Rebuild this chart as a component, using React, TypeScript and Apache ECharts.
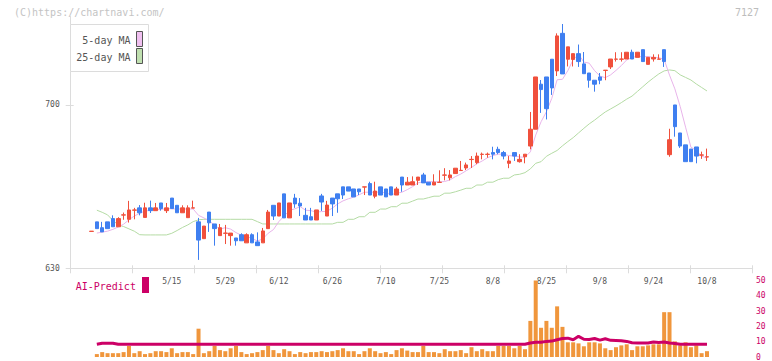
import React, { useEffect, useRef } from "react";
import * as echarts from "echarts";

// Trading days (2025), 4/21 .. 10/8
const DATES = [
  "4/21", "4/22", "4/23", "4/24", "4/25", "4/28", "4/30",
  "5/1", "5/2", "5/7", "5/8", "5/9", "5/12", "5/13", "5/14", "5/15", "5/16", "5/19", "5/20", "5/21", "5/22", "5/23", "5/26", "5/27", "5/28", "5/29", "5/30",
  "6/2", "6/3", "6/4", "6/5", "6/6", "6/9", "6/10", "6/11", "6/12", "6/13", "6/16", "6/17", "6/18", "6/19", "6/20", "6/23", "6/24", "6/25", "6/26", "6/27", "6/30",
  "7/1", "7/2", "7/3", "7/4", "7/7", "7/8", "7/9", "7/10", "7/11", "7/14", "7/15", "7/16", "7/17", "7/18", "7/22", "7/23", "7/24", "7/25", "7/28", "7/29", "7/30", "7/31",
  "8/1", "8/4", "8/5", "8/6", "8/7", "8/8", "8/12", "8/13", "8/14", "8/15", "8/18", "8/19", "8/20", "8/21", "8/22", "8/25", "8/26", "8/27", "8/28", "8/29",
  "9/1", "9/2", "9/3", "9/4", "9/5", "9/8", "9/9", "9/10", "9/11", "9/12", "9/16", "9/17", "9/18", "9/19", "9/22", "9/24", "9/25", "9/26", "9/29", "9/30",
  "10/1", "10/2", "10/3", "10/6", "10/7", "10/8",
];

const LABEL_DATES = ["5/15", "5/29", "6/12", "6/26", "7/10", "7/25", "8/8", "8/25", "9/8", "9/24", "10/8"];

const OPEN = [
  645.8, 649.9, 647.4, 649.9, 651.3, 647.8, 652.8, 651.0, 654.9, 655.9,
  651.8, 655.9, 654.7, 658.0, 654.7, 660.1, 657.0, 653.8, 651.7, 655.8,
  649.9, 642.7, 654.1, 649.0, 644.0, 645.0, 644.0, 643.0, 644.4, 640.9,
  644.4, 641.3, 640.9, 647.0, 657.0, 652.4, 661.9, 651.6, 660.1, 657.9,
  652.7, 652.1, 650.7, 661.0, 652.4, 660.1, 661.9, 664.9, 664.9, 664.0,
  664.0, 664.8, 666.3, 660.9, 664.9, 664.0, 664.9, 661.4, 669.1, 665.7,
  665.7, 667.7, 670.0, 666.9, 665.7, 666.8, 669.9, 668.8, 670.6, 671.9,
  673.0, 676.6, 675.3, 678.8, 678.8, 679.6, 681.0, 679.6, 675.0, 679.6,
  675.7, 677.8, 682.4, 689.6, 708.9, 712.0, 719.6, 714.6, 730.7, 719.6,
  719.5, 722.0, 717.6, 713.7, 710.6, 712.0, 714.8, 716.3, 719.6, 719.6,
  719.7, 722.6, 720.4, 723.7, 717.4, 719.7, 719.6, 723.7, 678.7, 700.0,
  688.0, 682.9, 681.1, 682.0, 678.5, 677.7,
];

const CLOSE = [
  645.9, 647.0, 645.6, 647.0, 647.8, 651.3, 652.9, 655.0, 655.0, 653.8,
  655.9, 654.7, 655.9, 655.6, 655.9, 655.6, 653.8, 655.9, 655.9, 655.9,
  642.1, 648.1, 649.5, 647.0, 647.4, 645.1, 645.1, 641.8, 641.8, 644.4,
  640.9, 639.7, 646.0, 654.1, 652.4, 658.0, 651.6, 658.0, 657.6, 656.7,
  650.7, 650.7, 655.0, 658.4, 657.1, 657.6, 659.8, 661.4, 663.1, 660.6,
  662.8, 664.9, 661.4, 663.1, 661.4, 660.6, 661.4, 664.0, 665.7, 666.9,
  667.1, 669.1, 666.6, 665.7, 666.9, 666.9, 670.0, 670.0, 672.9, 672.0,
  674.3, 676.7, 678.1, 678.9, 678.9, 678.9, 679.6, 678.1, 676.0, 678.1,
  676.7, 678.9, 689.6, 712.0, 706.6, 698.4, 707.3, 729.6, 713.3, 724.9,
  722.0, 718.6, 713.4, 710.6, 708.9, 710.6, 714.9, 719.7, 719.7, 719.7,
  722.6, 719.7, 722.6, 718.6, 720.4, 720.4, 719.7, 718.6, 685.1, 690.7,
  682.4, 675.7, 675.7, 678.1, 678.6, 677.8,
];

const LOW = [
  645.8, 647.0, 645.6, 647.0, 647.8, 647.8, 650.8, 649.6, 651.0, 652.7,
  651.8, 653.7, 654.7, 654.7, 653.7, 655.6, 653.8, 653.8, 651.7, 655.8,
  633.6, 642.7, 645.6, 639.7, 644.0, 640.4, 639.7, 639.7, 641.8, 640.9,
  640.9, 639.7, 640.9, 647.0, 650.7, 652.4, 651.6, 651.6, 655.9, 652.4,
  650.7, 650.7, 650.7, 654.6, 652.4, 652.4, 653.8, 659.7, 663.1, 660.6,
  661.4, 661.4, 661.4, 660.0, 661.4, 660.6, 661.4, 661.4, 662.8, 665.7,
  665.7, 665.7, 666.6, 665.7, 665.7, 666.8, 667.7, 667.7, 670.6, 671.9,
  672.1, 673.0, 674.6, 676.7, 677.4, 676.7, 678.9, 676.7, 672.9, 676.0,
  675.3, 675.0, 681.0, 689.6, 696.6, 693.8, 704.3, 712.4, 713.3, 716.5,
  716.5, 716.3, 713.4, 707.4, 705.7, 708.9, 710.6, 715.4, 718.6, 718.6,
  719.7, 719.7, 720.4, 718.6, 717.4, 718.6, 719.6, 716.3, 677.8, 686.4,
  681.6, 675.7, 675.7, 675.0, 676.9, 676.0,
];

const HIGH = [
  645.9, 649.9, 649.9, 649.9, 652.7, 651.9, 653.9, 658.9, 655.9, 657.1,
  658.1, 659.0, 658.0, 658.0, 658.0, 660.1, 657.0, 657.0, 657.0, 659.0,
  651.6, 648.1, 654.1, 649.0, 649.0, 648.6, 645.1, 643.0, 645.0, 645.0,
  645.0, 645.4, 647.3, 655.0, 657.0, 658.0, 661.9, 658.0, 661.9, 660.1,
  655.9, 655.9, 655.0, 661.9, 658.9, 660.1, 661.9, 664.9, 664.9, 664.0,
  664.0, 664.9, 667.1, 667.1, 664.9, 664.0, 664.9, 664.9, 669.1, 669.1,
  669.4, 669.1, 670.9, 666.9, 670.3, 672.0, 672.9, 672.1, 672.9, 676.0,
  675.3, 678.1, 679.6, 679.6, 679.6, 682.1, 682.1, 680.3, 678.1, 679.6,
  678.9, 678.9, 697.0, 712.0, 710.7, 712.0, 719.6, 730.7, 734.7, 724.9,
  722.0, 725.9, 722.7, 713.7, 710.6, 713.7, 714.9, 719.7, 722.6, 722.6,
  722.6, 723.7, 722.6, 723.7, 720.4, 721.7, 721.7, 723.7, 689.8, 700.0,
  688.0, 682.9, 681.1, 682.0, 680.0, 681.3,
];

const MA5 = [
  null, 645.1, 645.5, 645.9, 646.7, 647.7, 648.9, 650.8, 652.4, 653.6,
  654.5, 654.9, 655.1, 655.2, 655.6, 655.5, 655.4, 655.4, 655.4, 655.4,
  652.7, 651.6, 650.3, 648.5, 646.8, 647.4, 646.8, 645.3, 644.2, 643.6,
  642.8, 641.7, 642.6, 645.0, 646.6, 650.0, 652.4, 654.8, 655.5, 656.4,
  654.9, 654.7, 654.1, 654.3, 654.4, 655.8, 657.6, 658.9, 659.8, 660.5,
  661.5, 662.6, 662.6, 662.6, 662.7, 662.3, 661.6, 662.1, 662.6, 663.7,
  665.0, 666.6, 667.1, 667.1, 667.1, 667.0, 667.2, 667.9, 669.3, 670.4,
  671.8, 673.2, 674.8, 676.0, 677.4, 678.3, 678.9, 678.9, 678.3, 678.1,
  677.7, 677.6, 679.9, 687.1, 692.8, 697.1, 702.8, 710.8, 711.0, 714.7,
  719.4, 721.7, 718.4, 717.9, 714.7, 712.4, 711.7, 712.9, 714.8, 716.9,
  719.3, 720.3, 720.9, 720.6, 720.8, 720.3, 720.3, 719.5, 712.8, 706.9,
  699.3, 690.5, 681.9, 680.5, 678.1, 677.2,
];

const MA25 = [
  null, 654.9, 654.0, 652.9, 650.5, 648.6, 647.9, 646.9, 645.9, 644.4,
  644.3, 644.3, 644.3, 644.3, 644.3, 645.0, 646.2, 647.5, 648.6, 650.0,
  650.8, 651.0, 651.0, 651.0, 651.0, 651.0, 651.0, 651.0, 651.0, 651.0,
  651.0, 650.0, 649.0, 649.0, 649.0, 649.0, 649.0, 649.0, 649.0, 649.0,
  649.0, 649.0, 649.0, 649.0, 649.0, 649.0, 649.7, 649.7, 651.0, 651.0,
  652.1, 652.1, 654.0, 654.0, 655.4, 655.4, 656.4, 656.4, 657.9, 657.9,
  658.8, 659.7, 659.7, 660.3, 660.9, 660.9, 662.2, 662.2, 662.8, 663.5,
  664.3, 664.3, 665.7, 665.7, 666.9, 666.9, 668.0, 668.6, 668.6, 670.0,
  670.3, 671.0, 672.6, 675.0, 675.7, 678.0, 679.3, 680.5, 682.5, 684.3,
  686.0, 688.0, 690.0, 691.9, 693.5, 695.3, 697.0, 698.3, 699.6, 701.0,
  702.5, 703.8, 705.8, 707.8, 709.8, 711.6, 713.3, 714.6, 715.0, 714.7,
  712.9, 711.8, 710.7, 709.0, 707.5, 706.0,
];

const VOLUME = [
  null, 1.9, 3.2, 2.5, 2.5, 2.5, 3.2, 7.2, 2.5, 3.8,
  1.9, 2.5, 3.8, 3.8, 3.2, 5.7, 2.5, 3.2, 3.2, 1.9,
  18.5, 2.5, 3.8, 7.2, 4.5, 3.8, 5.7, 7.2, 3.2, 1.9,
  2.5, 3.2, 4.5, 7.2, 4.5, 2.5, 5.1, 3.8, 1.9, 3.2,
  2.5, 3.2, 3.2, 3.8, 3.2, 3.8, 4.5, 5.7, 3.8, 3.8,
  1.9, 3.8, 5.7, 3.8, 2.5, 3.2, 1.9, 4.5, 5.7, 4.2,
  3.2, 3.2, 7.2, 3.2, 3.2, 2.5, 5.1, 3.8, 3.8, 4.5,
  2.5, 6.4, 3.8, 5.1, 3.8, 3.8, 7.2, 7.2, 7.2, 5.7,
  7.2, 5.1, 23.6, 50, 19.1, 23.6, 19.1, 33.1, 19.7, 9.6,
  9.6, 8.9, 7.0, 9.6, 9.6, 8.9, 5.7, 4.5, 6.4, 7.6,
  8.3, 4.5, 7.0, 7.0, 7.6, 8.3, 8.3, 29.3, 29.3, 10.2,
  7.6, 9.6, 6.4, 7.6, 2.5, 3.8,
];

const AI_PREDICT = [
  null, 8.3, 9.0, 9.0, 9.0, 8.3, 8.3, 8.3, 8.3, 8.3,
  8.3, 8.3, 8.3, 8.3, 8.3, 8.3, 8.3, 8.3, 8.3, 8.3,
  8.3, 8.3, 8.3, 8.3, 8.3, 8.3, 8.3, 8.3, 8.3, 8.3,
  8.3, 8.3, 8.3, 8.3, 8.3, 8.3, 8.3, 8.3, 8.3, 8.3,
  8.3, 8.3, 8.3, 8.3, 8.3, 8.3, 8.3, 8.3, 8.3, 8.3,
  8.3, 8.3, 8.3, 8.3, 8.3, 8.3, 8.3, 8.3, 8.3, 8.3,
  8.3, 8.3, 8.3, 8.3, 8.3, 8.3, 8.3, 8.3, 8.3, 8.3,
  8.3, 8.3, 8.3, 8.3, 8.3, 8.3, 8.3, 8.3, 8.3, 8.3,
  8.3, 8.3, 9.2, 9.6, 9.6, 10.2, 10.4, 11.3, 12.1, 12.3,
  11.3, 13.5, 11.6, 11.5, 12.1, 11.0, 11.9, 10.9, 10.8, 10.6,
  10.2, 9.3, 9.1, 9.2, 9.2, 9.8, 9.5, 9.8, 9.1, 8.8,
  8.3, 8.3, 8.3, 8.3, 8.3, 8.3,
];

const PRICE_TICKS = [630, 700];
const PRICE_MIN = 630;
const PRICE_MAX = 738;
const VOLUME_MAX = 50;

const RED = "#f0503c";
const BLUE = "#3f7ff0";
const MAGENTA = "#cc0066";
const AXIS_GRAY = "#dcdcdc";
const FONT = "'DejaVu Sans Mono', monospace";

export default function App() {
  const ref = useRef<HTMLDivElement>(null);

  useEffect(() => {
    if (!ref.current) return;
    const chart = echarts.init(ref.current, null, { renderer: "svg" });

    const candles = DATES.map((_, i) => [OPEN[i], CLOSE[i], LOW[i], HIGH[i]]);

    const W = 772;
    const H = 361;
    const plotTop = 16.3;
    const plotBottom = H - 268.3;
    const dataLeft = 88.82;
    const dataRight = W - 709.65;
    const frameLeft = 70.7;
    const frameRight = W - 752.7;

    const option: any = {
      animation: false,
      backgroundColor: "#ffffff",
      grid: [
        { left: dataLeft, right: dataRight, top: plotTop, bottom: plotBottom },
        { left: frameLeft, right: frameRight, top: plotTop, bottom: plotBottom },
        { left: dataLeft, right: dataRight, top: 280.5, bottom: 2 },
      ],
      xAxis: [
        {
          gridIndex: 0,
          type: "category",
          data: DATES,
          boundaryGap: true,
          axisLine: { show: false },
          axisTick: { show: false },
          splitLine: { show: false },
          axisLabel: {
            interval: (_i: number, v: string) => LABEL_DATES.includes(v),
            color: "#555",
            fontSize: 8,
            fontFamily: FONT,
            margin: 9,
          },
        },
        {
          gridIndex: 1,
          type: "value",
          min: 0,
          max: 11,
          interval: 1,
          position: "bottom",
          axisLine: { show: true, onZero: false, lineStyle: { color: AXIS_GRAY, width: 1 } },
          axisTick: { show: true, inside: false, length: 5, lineStyle: { color: AXIS_GRAY } },
          axisLabel: { show: false },
          splitLine: { show: false },
        },
        {
          gridIndex: 1,
          type: "value",
          min: 0,
          max: 11,
          interval: 1,
          position: "bottom",
          axisLine: { show: false, onZero: false },
          axisTick: { show: true, inside: true, length: 3, lineStyle: { color: AXIS_GRAY } },
          axisLabel: { show: false },
          splitLine: { show: false },
        },
        {
          gridIndex: 2,
          type: "category",
          data: DATES,
          boundaryGap: true,
          show: false,
        },
      ],
      yAxis: [
        {
          gridIndex: 0,
          type: "value",
          min: PRICE_MIN,
          max: PRICE_MAX,
          show: false,
          splitLine: { show: false },
        },
        {
          gridIndex: 1,
          type: "value",
          position: "left",
          min: PRICE_MIN,
          max: PRICE_MAX,
          interval: 70,
          axisLine: { show: true, onZero: false, lineStyle: { color: AXIS_GRAY, width: 1 } },
          axisTick: { show: true, inside: false, length: 5, customValues: PRICE_TICKS, lineStyle: { color: AXIS_GRAY } },
          axisLabel: {
            customValues: PRICE_TICKS,
            formatter: (v: number) => (PRICE_TICKS.includes(v) ? String(v) : ""),
            color: "#555",
            fontSize: 8,
            fontFamily: FONT,
            margin: 11,
          },
          splitLine: { show: false },
        },
        {
          gridIndex: 1,
          type: "value",
          position: "left",
          min: PRICE_MIN,
          max: PRICE_MAX,
          interval: 70,
          axisLine: { show: false, onZero: false },
          axisTick: { show: true, inside: true, length: 3, customValues: PRICE_TICKS, lineStyle: { color: AXIS_GRAY } },
          axisLabel: { show: false },
          splitLine: { show: false },
        },
        {
          gridIndex: 2,
          type: "value",
          min: 0,
          max: VOLUME_MAX,
          interval: 10,
          position: "right",
          offset: 752.7 - 709.65,
          axisLine: { show: false },
          axisTick: { show: false },
          splitLine: { show: false },
          axisLabel: {
            color: MAGENTA,
            fontSize: 8,
            fontFamily: FONT,
            margin: 3.3,
            padding: [0, 0, 3, 0],
          },
        },
      ],
      series: [
        {
          name: "25-day MA",
          type: "line",
          xAxisIndex: 0,
          yAxisIndex: 0,
          data: MA25,
          symbol: "none",
          lineStyle: { color: "#b4dba4", width: 1 },
          z: 1,
        },
        {
          name: "5-day MA",
          type: "line",
          xAxisIndex: 0,
          yAxisIndex: 0,
          data: MA5,
          symbol: "none",
          lineStyle: { color: "#e8b4ea", width: 1 },
          z: 1,
        },
        {
          name: "price",
          type: "candlestick",
          xAxisIndex: 0,
          yAxisIndex: 0,
          data: candles,
          barWidth: 4,
          itemStyle: {
            color: RED,
            color0: BLUE,
            borderColor: RED,
            borderColor0: BLUE,
            borderWidth: 1,
          },
          z: 2,
        },
        {
          name: "volume",
          type: "bar",
          xAxisIndex: 3,
          yAxisIndex: 3,
          data: VOLUME,
          barWidth: 4,
          itemStyle: { color: "#f0963c" },
          z: 1,
        },
        {
          name: "AI-Predict",
          type: "line",
          xAxisIndex: 3,
          yAxisIndex: 3,
          data: AI_PREDICT,
          symbol: "none",
          lineStyle: { color: MAGENTA, width: 3 },
          z: 2,
        },
      ],
      graphic: [
        {
          type: "text",
          x: 14,
          y: 12.5,
          style: { text: "(C)https://chartnavi.com/", fill: "#c4c4c4", font: `10px ${FONT}`, verticalAlign: "middle", align: "left" },
        },
        {
          type: "text",
          x: 759,
          y: 12.5,
          style: { text: "7127", fill: "#bdbdbd", font: `10px ${FONT}`, verticalAlign: "middle", align: "right" },
        },
        {
          type: "rect",
          z: 10,
          shape: { x: 70.5, y: 24.5, width: 78, height: 47 },
          style: { fill: "#ffffff", stroke: AXIS_GRAY, lineWidth: 1 },
        },
        {
          type: "text",
          z: 11,
          x: 130.5,
          y: 40.7,
          style: { text: "5-day MA", fill: "#555", font: `10px ${FONT}`, verticalAlign: "middle", align: "right" },
        },
        {
          type: "rect",
          z: 11,
          shape: { x: 136.5, y: 31.5, width: 6, height: 15 },
          style: { fill: "#f0c0f0", stroke: "#555", lineWidth: 1 },
        },
        {
          type: "text",
          z: 11,
          x: 130.5,
          y: 57,
          style: { text: "25-day MA", fill: "#555", font: `10px ${FONT}`, verticalAlign: "middle", align: "right" },
        },
        {
          type: "rect",
          z: 11,
          shape: { x: 136.5, y: 48.5, width: 6, height: 15 },
          style: { fill: "#c0e0b0", stroke: "#555", lineWidth: 1 },
        },
        {
          type: "text",
          z: 11,
          x: 75.7,
          y: 286,
          style: { text: "AI-Predict", fill: MAGENTA, font: `10px ${FONT}`, verticalAlign: "middle", align: "left" },
        },
        {
          type: "rect",
          z: 11,
          shape: { x: 142, y: 277, width: 7, height: 16 },
          style: { fill: MAGENTA },
        },
      ],
    };

    chart.setOption(option);
    return () => {
      chart.dispose();
    };
  }, []);

  return (
    <div
      ref={ref}
      style={{ position: "absolute", left: 0, top: 0, width: 772, height: 361, background: "#fff" }}
    />
  );
}
